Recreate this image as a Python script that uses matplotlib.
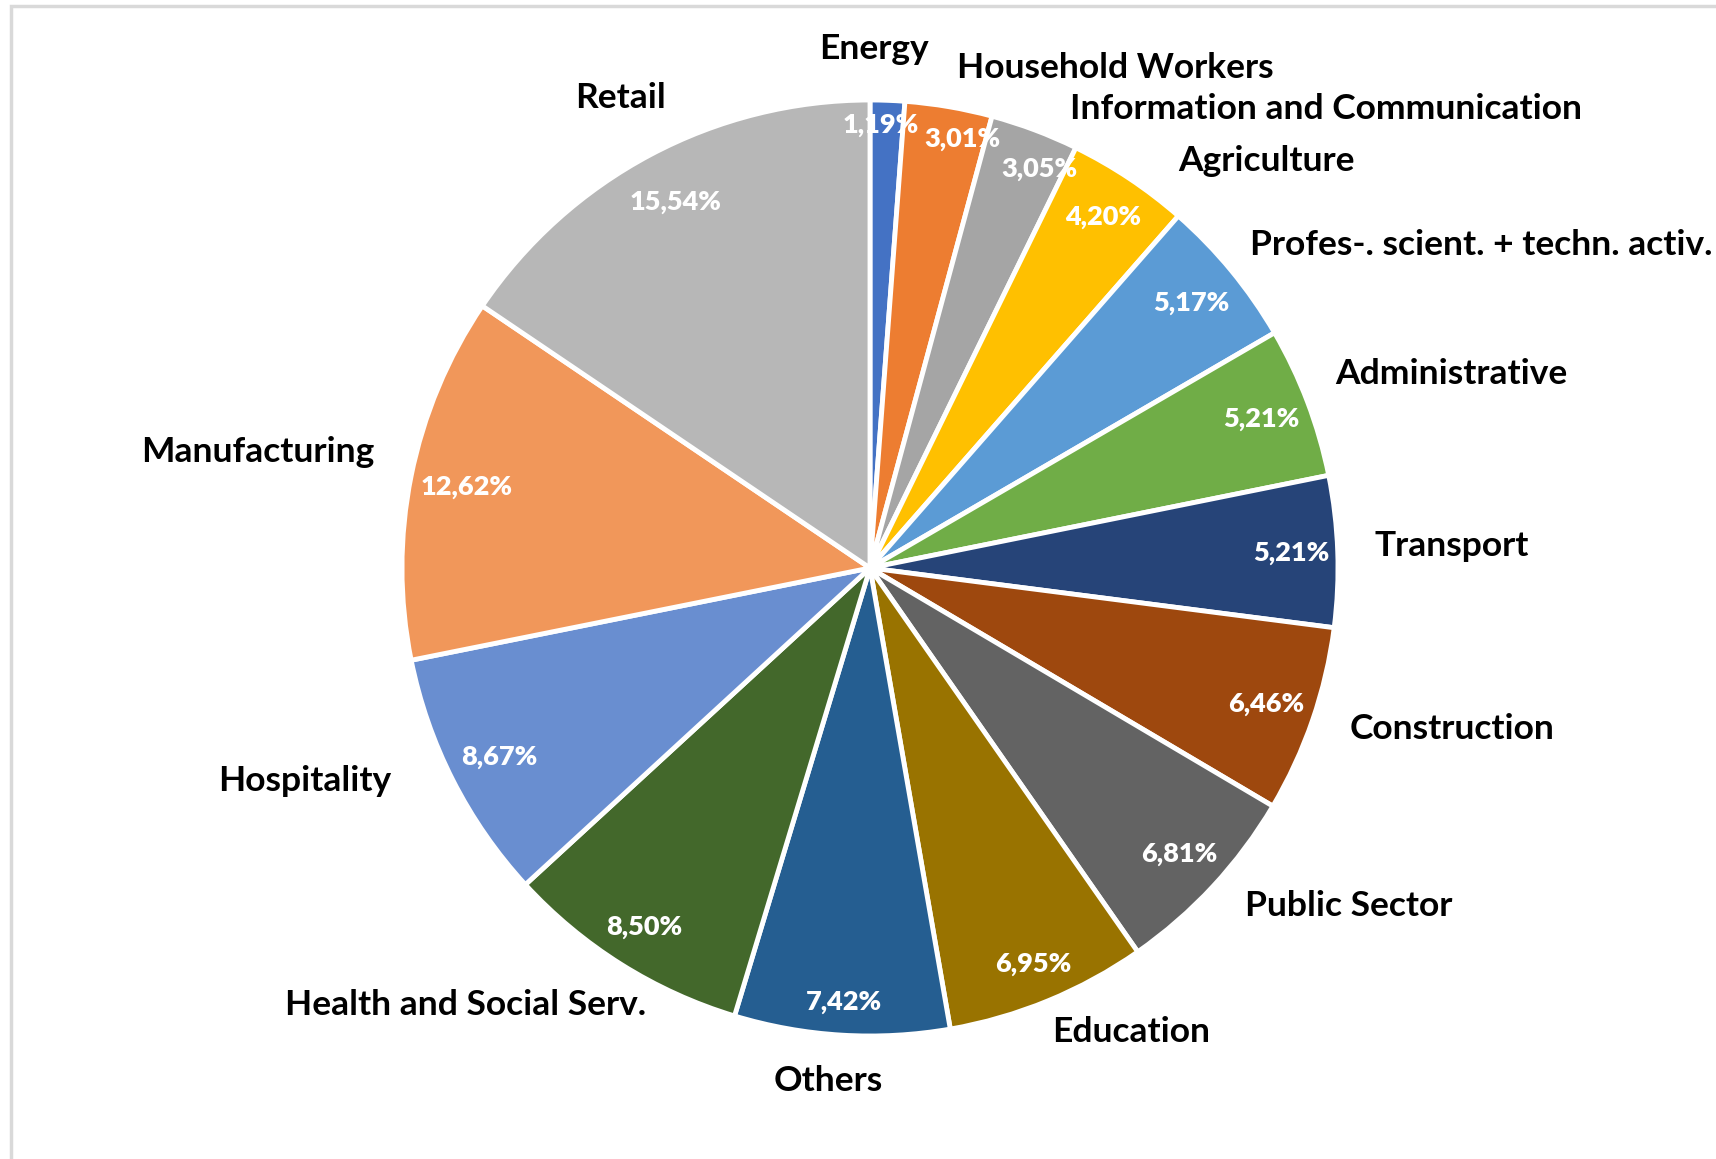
import numpy as np
import matplotlib
matplotlib.use("Agg")
import matplotlib.pyplot as plt
from matplotlib.patches import Rectangle

# data (clockwise from 12 o'clock)
sectors = ['Energy', 'Household Workers', 'Information and Communication',
           'Agriculture', 'Profes-. scient. + techn. activ.', 'Administrative',
           'Transport', 'Construction', 'Public Sector', 'Education', 'Others',
           'Health and Social Serv.', 'Hospitality', 'Manufacturing', 'Retail']
shares = [1.19, 3.01, 3.05, 4.20, 5.17, 5.21, 5.21, 6.46, 6.81, 6.95, 7.42,
          8.50, 8.67, 12.62, 15.54]
colors = ['#4472C4', '#ED7D31', '#A5A5A5', '#FFC000', '#5B9BD5', '#70AD47',
          '#264478', '#9E480E', '#636363', '#997300', '#255E91', '#43682B',
          '#698ED0', '#F1975A', '#B7B7B7']

# label placement styling
name_dist = [1.11, 1.084, 1.07, 1.09, 1.065, 1.077, 1.08, 1.08, 1.08, 1.065,
             1.10, 1.05, 1.12, 1.087, 1.136]
name_dang = [1.7, -0.2, -2.9, -3.5, 0.9, 1.9, 0.5, 0.4, 0.8, -0.9, -1.2, 5, -3, -1.8, 0]
name_ha = ['center', 'left', 'left', 'left', 'left', 'left', 'left', 'left',
           'left', 'left', 'center', 'right', 'right', 'right', 'center']
pct_dist = [0.947, 0.937, 0.927, 0.90, 0.89, 0.895, 0.90, 0.895, 0.90, 0.916,
            0.93, 0.906, 0.89, 0.879, 0.885]
pct_dang = [0.7, -2.5, -2.4, 0, 0, 0, 0, 0, 0, 0, 0, 0, 0, 0, 0]

W, H = 1716, 1159
cx, cy, R = 870, 568, 468

fig = plt.figure(figsize=(W / 100, H / 100), dpi=100)
ax = fig.add_axes([0, 0, 1, 1])

fig.patches.append(Rectangle((11 / W, -0.1), 1.2, 1 - 6 / H + 0.1,
                             transform=fig.transFigure, fill=False,
                             edgecolor='#D9D9D9', linewidth=2.5))

wedges, _ = ax.pie(shares, colors=colors, startangle=90, counterclock=False,
                   radius=1, wedgeprops=dict(edgecolor='white', linewidth=3.5))
ax.set_xlim(-cx / R, (W - cx) / R)
ax.set_ylim(-(H - cy) / R, cy / R)
ax.set_aspect('equal')
ax.axis('off')

font = ['Lato', 'DejaVu Sans']
for i, w in enumerate(wedges):
    mid = (w.theta1 + w.theta2) / 2
    a = np.deg2rad(mid + pct_dang[i])
    txt = f"{shares[i]:.2f}%".replace('.', ',')
    ax.text(pct_dist[i] * np.cos(a), pct_dist[i] * np.sin(a), txt,
            ha='center', va='center', color='white', fontsize=19.5,
            fontweight='heavy', family=font)
    a = np.deg2rad(mid + name_dang[i])
    ax.text(name_dist[i] * np.cos(a), name_dist[i] * np.sin(a), sectors[i],
            ha=name_ha[i], va='center', color='black', fontsize=25.5,
            fontweight='bold', family=font)

fig.savefig('out.png', dpi=100, facecolor='white')
